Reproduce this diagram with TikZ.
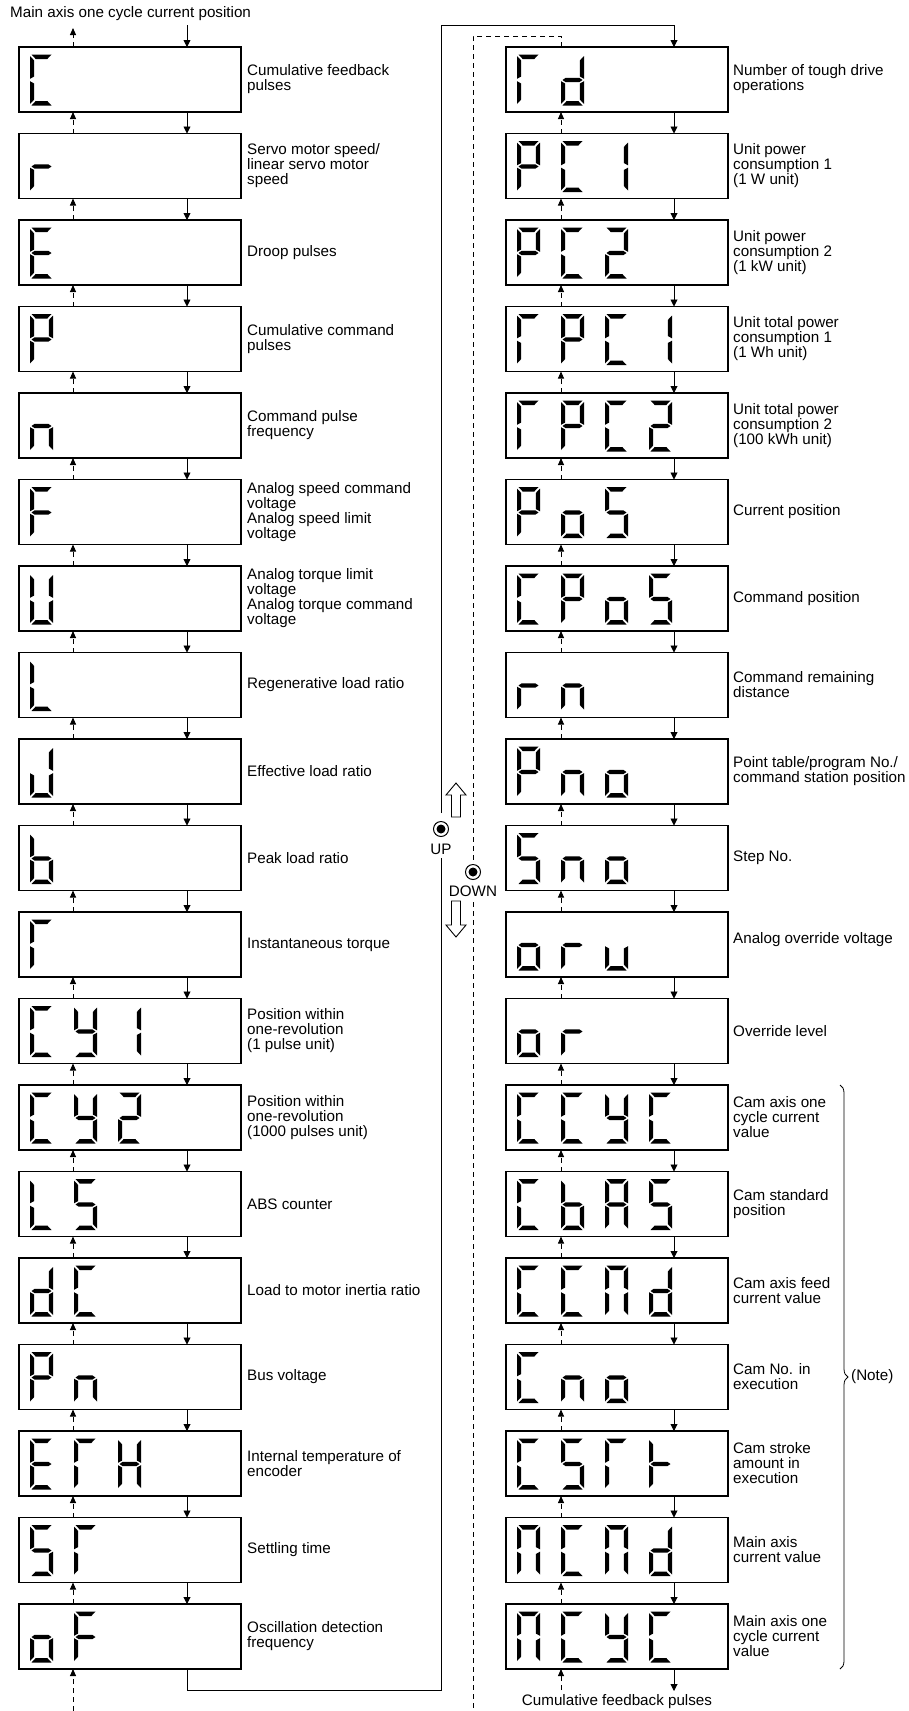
\documentclass[tikz,border=0pt]{standalone}
\usepackage{fontspec}
\setmainfont{Liberation Sans}
\usetikzlibrary{arrows.meta,decorations.pathreplacing}
\newcommand\lblfont{\fontsize{15.2}{15}\selectfont}
% seven-segment character definitions
\def\sgC{a,d,e,f}
\def\sgr{e,g}
\def\sgE{a,d,e,f,g}
\def\sgP{a,b,e,f,g}
\def\sgn{c,e,g}
\def\sgF{a,e,f,g}
\def\sgU{b,c,d,e,f}
\def\sgL{d,e,f}
\def\sgJ{b,c,d,e}
\def\sgb{c,d,e,f,g}
\def\sgT{a,e,f}
\def\sgy{b,c,d,f,g}
\def\sgone{b,c}
\def\sgtwo{a,b,d,e,g}
\def\sgS{a,c,d,f,g}
\def\sgd{b,c,d,e,g}
\def\sgH{b,c,e,f,g}
\def\sgo{c,d,e,g}
\def\sgu{c,d,e}
\def\sgA{a,b,c,e,f,g}
\def\sgN{a,b,c,e,f}
\def\sgt{e,f,g}
\newcommand\D[4]{\foreach \s in #4 {\pic at ({#1+11+44*#3},{54.5+86.5*#2}) {seg\s};}}
\begin{document}
\begin{tikzpicture}[x=1pt,y=-1pt,
  sega/.pic={\fill (1.5,0) -- (21.5,0) -- (17.3,4.5) -- (5.7,4.5) -- cycle;},
  segd/.pic={\fill (1.5,51) -- (21.5,51) -- (17.3,46.5) -- (5.7,46.5) -- cycle;},
  segf/.pic={\fill (0,1.5) -- (4.2,6) -- (4.2,22) -- (0,24.3) -- cycle;},
  segb/.pic={\fill (23,1.5) -- (18.8,6) -- (18.8,22) -- (23,24.3) -- cycle;},
  sege/.pic={\fill (0,26.7) -- (4.2,29) -- (4.2,45) -- (0,49.5) -- cycle;},
  segc/.pic={\fill (23,26.7) -- (18.8,29) -- (18.8,45) -- (23,49.5) -- cycle;},
  segg/.pic={\fill (1.5,25.5) -- (4.7,23.3) -- (18.3,23.3) -- (21.5,25.5) -- (18.3,27.7) -- (4.7,27.7) -- cycle;},
  dbox/.style={draw, line width=1.1pt, minimum width=222pt, minimum height=65pt, inner sep=0pt, outer sep=0pt},
  lbl/.style={anchor=west, align=left, inner sep=0pt, font=\lblfont},
  sline/.style={line width=0.9pt},
  dline/.style={line width=0.9pt, dash pattern=on 5pt off 4pt},
  sarrow/.style={sline, -{Triangle[length=7pt,width=7pt]}},
  darrow/.style={dline, -{Triangle[length=7pt,width=6pt]}},
  hollow/.style={draw, line width=0.9pt, fill=white},
  ring/.style={circle, draw, line width=1pt, minimum size=15pt, inner sep=0pt}
]
\useasboundingbox (0,0) rectangle (909,1711);

\coordinate (Lsx) at (187,0);
\coordinate (Ldx) at (73,0);
\coordinate (Rsx) at (674,0);
\coordinate (Rdx) at (561,0);

% boxes
\foreach \i in {0,...,18} {
  \node[dbox] (L\i) at (130,{79.5+86.5*\i}) {};
  \node[dbox] (R\i) at (617,{79.5+86.5*\i}) {};
}
% arrows between boxes
\foreach \i in {0,...,17} {
  \pgfmathtruncatemacro\j{\i+1}
  \draw[sarrow] (L\i.south -| Lsx) -- (L\j.north -| Lsx);
  \draw[darrow] (L\j.north -| Ldx) -- (L\i.south -| Ldx);
  \draw[sarrow] (R\i.south -| Rsx) -- (R\j.north -| Rsx);
  \draw[darrow] (R\j.north -| Rdx) -- (R\i.south -| Rdx);
}

% left labels
\node[lbl] (tl0) at (247,79.5) {Cumulative feedback\\pulses};
\node[lbl] (tl1) at (247,166) {Servo motor speed/\\linear servo motor\\speed};
\node[lbl] (tl2) at (247,252.5) {Droop pulses};
\node[lbl] (tl3) at (247,339) {Cumulative command\\pulses};
\node[lbl] (tl4) at (247,425.5) {Command pulse\\frequency};
\node[lbl] (tl5) at (247,512) {Analog speed command\\voltage\\Analog speed limit\\voltage};
\node[lbl] (tl6) at (247,598.5) {Analog torque limit\\voltage\\Analog torque command\\voltage};
\node[lbl] (tl7) at (247,685) {Regenerative load ratio};
\node[lbl] (tl8) at (247,771.5) {Effective load ratio};
\node[lbl] (tl9) at (247,858) {Peak load ratio};
\node[lbl] (tl10) at (247,944.5) {Instantaneous torque};
\node[lbl] (tl11) at (247,1031) {Position within\\one-revolution\\(1 pulse unit)};
\node[lbl] (tl12) at (247,1117.5) {Position within\\one-revolution\\(1000 pulses unit)};
\node[lbl] (tl13) at (247,1204) {ABS counter};
\node[lbl] (tl14) at (247,1290.5) {Load to motor inertia ratio};
\node[lbl] (tl15) at (247,1377) {Bus voltage};
\node[lbl] (tl16) at (247,1463.5) {Internal temperature of\\encoder};
\node[lbl] (tl17) at (247,1550) {Settling time};
\node[lbl] (tl18) at (247,1636.5) {Oscillation detection\\frequency};

% right labels
\node[lbl] (tr0) at (733,79.5) {Number of tough drive\\operations};
\node[lbl] (tr1) at (733,166) {Unit power\\consumption 1\\(1 W unit)};
\node[lbl] (tr2) at (733,252.5) {Unit power\\consumption 2\\(1 kW unit)};
\node[lbl] (tr3) at (733,339) {Unit total power\\consumption 1\\(1 Wh unit)};
\node[lbl] (tr4) at (733,425.5) {Unit total power\\consumption 2\\(100 kWh unit)};
\node[lbl] (tr5) at (733,512) {Current position};
\node[lbl] (tr6) at (733,598.5) {Command position};
\node[lbl] (tr7) at (733,685) {Command remaining\\distance};
\node[lbl] (tr8) at (733,771.5) {Point table/program No./\\command station position};
\node[lbl] (tr9) at (733,858) {Step No.};
\node[lbl] (tr10) at (733,940) {Analog override voltage};
\node[lbl] (tr11) at (733,1031) {Override level};
\node[lbl] (tr12) at (733,1117.5) {Cam axis one\\cycle current\\value};
\node[lbl] (tr13) at (733,1204) {Cam standard\\position};
\node[lbl] (tr14) at (733,1290.5) {Cam axis feed\\current value};
\node[lbl] (tr15) at (733,1377) {Cam No. in\\execution};
\node[lbl] (tr16) at (733,1463.5) {Cam stroke\\amount in\\execution};
\node[lbl] (tr17) at (733,1550) {Main axis\\current value};
\node[lbl] (tr18) at (733,1636.5) {Main axis one\\cycle current\\value};

% left displays
\D{19}{0}{0}{\sgC}
\D{19}{1}{0}{\sgr}
\D{19}{2}{0}{\sgE}
\D{19}{3}{0}{\sgP}
\D{19}{4}{0}{\sgn}
\D{19}{5}{0}{\sgF}
\D{19}{6}{0}{\sgU}
\D{19}{7}{0}{\sgL}
\D{19}{8}{0}{\sgJ}
\D{19}{9}{0}{\sgb}
\D{19}{10}{0}{\sgT}
\D{19}{11}{0}{\sgC}\D{19}{11}{1}{\sgy}\D{19}{11}{2}{\sgone}
\D{19}{12}{0}{\sgC}\D{19}{12}{1}{\sgy}\D{19}{12}{2}{\sgtwo}
\D{19}{13}{0}{\sgL}\D{19}{13}{1}{\sgS}
\D{19}{14}{0}{\sgd}\D{19}{14}{1}{\sgC}
\D{19}{15}{0}{\sgP}\D{19}{15}{1}{\sgn}
\D{19}{16}{0}{\sgE}\D{19}{16}{1}{\sgT}\D{19}{16}{2}{\sgH}
\D{19}{17}{0}{\sgS}\D{19}{17}{1}{\sgT}
\D{19}{18}{0}{\sgo}\D{19}{18}{1}{\sgF}

% right displays
\D{506}{0}{0}{\sgT}\D{506}{0}{1}{\sgd}
\D{506}{1}{0}{\sgP}\D{506}{1}{1}{\sgC}\D{506}{1}{2}{\sgone}
\D{506}{2}{0}{\sgP}\D{506}{2}{1}{\sgC}\D{506}{2}{2}{\sgtwo}
\D{506}{3}{0}{\sgT}\D{506}{3}{1}{\sgP}\D{506}{3}{2}{\sgC}\D{506}{3}{3}{\sgone}
\D{506}{4}{0}{\sgT}\D{506}{4}{1}{\sgP}\D{506}{4}{2}{\sgC}\D{506}{4}{3}{\sgtwo}
\D{506}{5}{0}{\sgP}\D{506}{5}{1}{\sgo}\D{506}{5}{2}{\sgS}
\D{506}{6}{0}{\sgC}\D{506}{6}{1}{\sgP}\D{506}{6}{2}{\sgo}\D{506}{6}{3}{\sgS}
\D{506}{7}{0}{\sgr}\D{506}{7}{1}{\sgn}
\D{506}{8}{0}{\sgP}\D{506}{8}{1}{\sgn}\D{506}{8}{2}{\sgo}
\D{506}{9}{0}{\sgS}\D{506}{9}{1}{\sgn}\D{506}{9}{2}{\sgo}
\D{506}{10}{0}{\sgo}\D{506}{10}{1}{\sgr}\D{506}{10}{2}{\sgu}
\D{506}{11}{0}{\sgo}\D{506}{11}{1}{\sgr}
\D{506}{12}{0}{\sgC}\D{506}{12}{1}{\sgC}\D{506}{12}{2}{\sgy}\D{506}{12}{3}{\sgC}
\D{506}{13}{0}{\sgC}\D{506}{13}{1}{\sgb}\D{506}{13}{2}{\sgA}\D{506}{13}{3}{\sgS}
\D{506}{14}{0}{\sgC}\D{506}{14}{1}{\sgC}\D{506}{14}{2}{\sgN}\D{506}{14}{3}{\sgd}
\D{506}{15}{0}{\sgC}\D{506}{15}{1}{\sgn}\D{506}{15}{2}{\sgo}
\D{506}{16}{0}{\sgC}\D{506}{16}{1}{\sgS}\D{506}{16}{2}{\sgT}\D{506}{16}{3}{\sgt}
\D{506}{17}{0}{\sgN}\D{506}{17}{1}{\sgC}\D{506}{17}{2}{\sgN}\D{506}{17}{3}{\sgd}
\D{506}{18}{0}{\sgN}\D{506}{18}{1}{\sgC}\D{506}{18}{2}{\sgy}\D{506}{18}{3}{\sgC}

% top of left column
\node[lbl] (title) at (10,14) {Main axis one cycle current position};
\coordinate (ltin) at (187,25);
\coordinate (ltout) at (73,28);
\draw[sarrow] (ltin) -- (L0.north -| Lsx);
\draw[darrow] (L0.north -| Ldx) -- (ltout);

% UP / DOWN
\node[ring] (upb) at (441,829) {};
\fill (upb.center) circle (4.5);
\node[font=\lblfont, inner sep=0pt] (uptxt) at (441,849) {UP};
\node[ring] (dnb) at (473,872) {};
\fill (dnb.center) circle (4.5);
\node[font=\lblfont, inner sep=0pt] (dntxt) at (473,891) {DOWN};
\draw[hollow] (456,783) -- (466,795) -- (460.5,795) -- (460.5,817) -- (451.5,817) -- (451.5,795) -- (446,795) -- cycle;
\draw[hollow] (451.5,901) -- (460.5,901) -- (460.5,925) -- (466,925) -- (456,937) -- (446,925) -- (451.5,925) -- cycle;

% solid loop (left bottom to right top)
\coordinate (s1) at (187,1690);
\coordinate (s2) at (441,1690);
\coordinate (s3) at (441,858);
\coordinate (s4) at (441,813);
\coordinate (s5) at (441,25);
\coordinate (s6) at (674,25);
\draw[sline] (L18.south -| Lsx) -- (s1) -- (s2) -- (s3);
\draw[sarrow] (s4) -- (s5) -- (s6) -- (R0.north -| Rsx);

% dashed loop (right top to left bottom)
\coordinate (d1) at (561,36);
\coordinate (d2) at (473,36);
\coordinate (d3) at (473,860);
\coordinate (d4) at (473,902);
\coordinate (d5) at (473,1711);
\coordinate (d6) at (73,1711);
\draw[dline] (R0.north -| Rdx) -- (d1) -- (d2) -- (d3);
\draw[dline] (d4) -- (d5);
\draw[darrow] (d6) -- (L18.south -| Ldx);

% right bottom
\coordinate (rbout) at (674,1691);
\coordinate (rbin) at (561,1690);
\draw[sarrow] (R18.south -| Rsx) -- (rbout);
\draw[darrow] (rbin) -- (R18.south -| Rdx);
\node[font=\lblfont, inner sep=0pt] (cfp) at (617,1702) {Cumulative feedback pulses};

% brace
\coordinate (b1) at (840,1085);
\coordinate (b2) at (840,1669);
\draw[line width=0.8pt, decorate, decoration={brace, amplitude=8pt}] (b1) -- (b2);
\node[lbl] (note) at (851,1377) {(Note)};
\end{tikzpicture}
\end{document}
